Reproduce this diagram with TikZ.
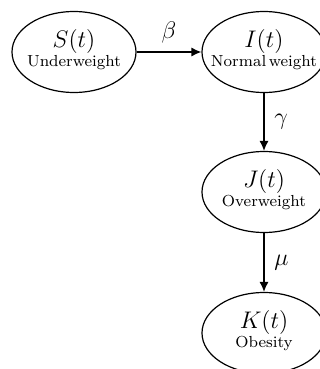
\documentclass[tikz,border=0pt]{standalone}
\usetikzlibrary{shapes.geometric,arrows.meta}
\newcommand{\statetext}[2]{\makebox[0pt]{\begin{tabular}{@{}c@{}}{\fontsize{13}{15}\selectfont$#1$}\\[-2.5pt]\footnotesize #2\end{tabular}}}
\begin{document}
\begin{tikzpicture}[x=0.5pt,y=-0.5pt,
  state/.style={ellipse,draw,line width=0.6pt,minimum width=62pt,minimum height=40.5pt,inner sep=0pt},
  flow/.style={-{Latex[length=5pt,width=4.5pt]},line width=0.6pt},
  rate/.style={font=\large}]
\useasboundingbox (0,0) rectangle (320,369);
\node[state] (S) at (74,52) {\statetext{S(t)}{Underweight}};
\node[state] (I) at (264,52) {\statetext{I(t)}{Normal\,weight}};
\node[state] (J) at (264,192) {\statetext{J(t)}{Overweight}};
\node[state] (K) at (264,333) {\statetext{K(t)}{Obesity}};
\draw[flow] (S) -- node[rate,above=1pt] (b) {$\beta$} (I);
\draw[flow] (I) -- node[rate,right=1.5pt] (g) {$\gamma$} (J);
\draw[flow] (J) -- node[rate,right=1.5pt] (m) {$\mu$} (K);
\end{tikzpicture}
\end{document}
